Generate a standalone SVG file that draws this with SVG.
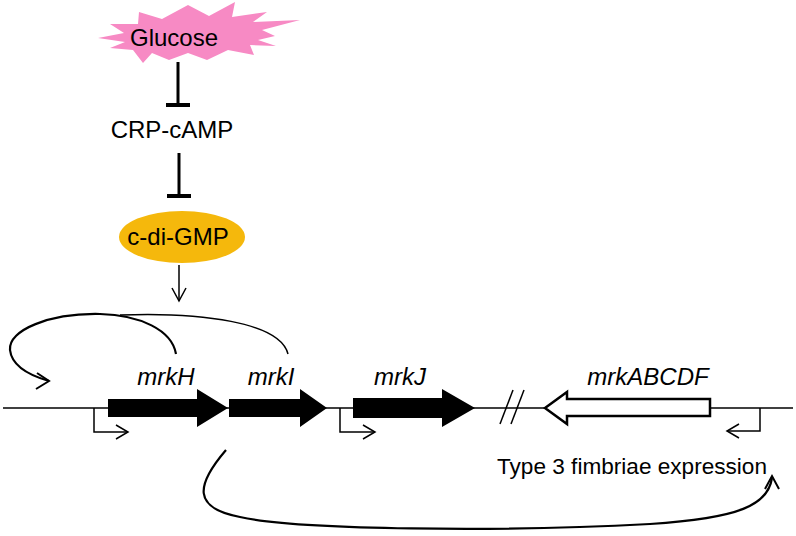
<svg xmlns="http://www.w3.org/2000/svg" width="796" height="536" viewBox="0 0 796 536">
<defs>
<style>
text{font-family:"Liberation Sans",Arial,sans-serif;fill:#000}
.lbl{font-size:24px;text-anchor:middle}
.gene{font-size:24px;font-style:italic;text-anchor:middle}
.ln{fill:none;stroke:#000;stroke-width:1.5}
.thick{fill:none;stroke:#000;stroke-width:2.2}
.inh{fill:none;stroke:#000;stroke-width:3}
.bar{fill:none;stroke:#000;stroke-width:4}
</style>
</defs>
<rect width="796" height="536" fill="#fff"/>
<g id="glucose">
<polygon fill="#F78AC4" points="98,38 124,33 110,24 138,24 139,12 162,19 188,5 209,16 235,2 232,17 267,12 253,22 300,20 262,30 275,36 258,40 276,46 250,45 254,55 228,50 207,60 188,53 169,60 152,53 143,63 133,50 110,48 125,42"/>
<text class="lbl" x="174" y="46">Glucose</text>
</g>
<g id="crp">
<text class="lbl" x="172" y="138">CRP-cAMP</text>
</g>
<g id="cdigmp">
<ellipse cx="182" cy="237" rx="63" ry="26" fill="#F5B80C"/>
<text class="lbl" x="178" y="245">c-di-GMP</text>
</g>
<g id="genome">
<line class="ln" x1="3" y1="408" x2="793" y2="408"/>
<line x1="500" y1="424" x2="513" y2="390" stroke="#000" stroke-width="1.5"/>
<line x1="511" y1="424" x2="524" y2="390" stroke="#000" stroke-width="1.5"/>
</g>
<g id="mrkH">
<polygon points="108,399 197,399 197,389 228,408 197,427 197,417 108,417" fill="#000"/>
<text class="gene" x="166" y="385">mrkH</text>
</g>
<g id="mrkI">
<polygon points="229,399 300,399 300,389 327,408 300,427 300,417 229,417" fill="#000"/>
<text class="gene" x="271" y="385">mrkI</text>
</g>
<g id="mrkJ">
<polygon points="353,398 442,398 442,389 475,408 442,427 442,418 353,418" fill="#000"/>
<text class="gene" x="400" y="385">mrkJ</text>
</g>
<g id="mrkABCDF">
<polygon points="545,408 567,392 567,399 710,399 710,416 567,416 567,424" fill="#fff" stroke="#000" stroke-width="2.5" stroke-linejoin="miter"/>
<text class="gene" x="648" y="385">mrkABCDF</text>
</g>
<g id="promoters">
<polyline class="ln" points="94,408 94,432 128,432"/>
<polyline class="ln" points="116,425 128,432 116,439"/>
<polyline class="ln" points="340,408 340,432 375,432"/>
<polyline class="ln" points="363,425 375,432 363,439"/>
<polyline class="ln" points="760,408 760,431 727,431"/>
<polyline class="ln" points="739,424 727,431 739,438"/>
</g>
<g id="fimbriae">
<text x="497" y="474" textLength="270" lengthAdjust="spacingAndGlyphs" style="font-size:22.5px">Type 3 fimbriae expression</text>
</g>
<g id="connectors">
<line class="inh" x1="178" y1="62" x2="178" y2="105"/>
<line class="bar" x1="166" y1="105" x2="190" y2="105"/>
<line class="inh" x1="179" y1="153" x2="179" y2="196"/>
<line class="bar" x1="167" y1="196" x2="191" y2="196"/>
<line class="ln" x1="179" y1="265" x2="179" y2="301"/>
<polyline class="ln" points="172,288 179,301 186,288"/>
<path class="thick" d="M176,354 C172,330 140,315 100,314 C50,313 8,330 10,350 C12,368 35,377 49,381"/>
<polyline class="ln" points="37,373 49,381 36,389" style="stroke-width:2"/>
<path class="ln" d="M288,354 C280,322 200,312 120,315"/>
<path class="thick" d="M226,450 C196,485 192,508 240,517 C300,530 500,532 650,524 C740,518 768,505 772,478"/>
<polyline class="ln" points="765,489 772,476 779,489" style="stroke-width:2"/>
</g>
</svg>
